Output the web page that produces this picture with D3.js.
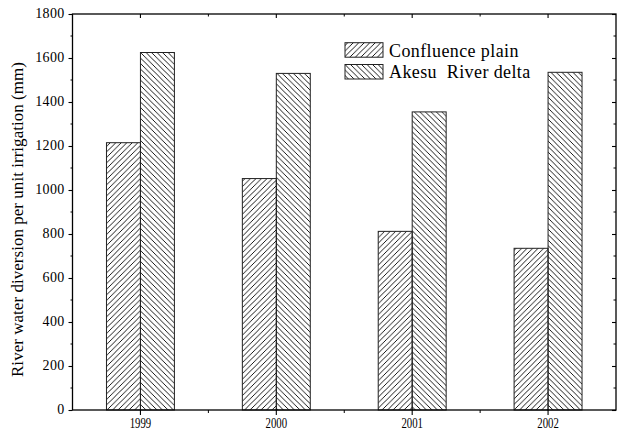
<!DOCTYPE html>
<html><head><meta charset="utf-8">
<script src="https://cdn.jsdelivr.net/npm/d3@7"></script>
<style>
html,body{margin:0;padding:0;background:#fff;}
svg{display:block;}
svg text{font-family:"Liberation Serif","Times New Roman",serif;fill:#000;}
</style></head>
<body>
<svg id="chart" width="618" height="430"></svg>
<script>
const years = ["1999","2000","2001","2002"];
const confluence = [1215, 1052, 812, 735];
const akesu = [1625, 1530, 1355, 1535];
const seriesNames = ["Confluence plain", "Akesu  River delta"];
const yTicks = [0,200,400,600,800,1000,1200,1400,1600,1800];
const yTitle = "River water diversion per unit irrigation (mm)";

const svg = d3.select("#chart");
const L = 72.5, R = 616, T = 14, B = 410;
const FONT = '"Liberation Serif", "Times New Roman", serif';

const x = d3.scaleBand().domain(years).range([L, R]).paddingInner(0).paddingOuter(0);
const y = d3.scaleLinear().domain([0, 1800]).range([B, T]);

const defs = svg.append("defs");
const p = 5.5;
function hatch(id, forward) {
  const pat = defs.append("pattern").attr("id", id)
    .attr("patternUnits", "userSpaceOnUse").attr("width", p).attr("height", p);
  const path = forward
    ? `M0,${p} L${p},0 M${-p/2},${p/2} L${p/2},${-p/2} M${p/2},${p*1.5} L${p*1.5},${p/2}`
    : `M0,0 L${p},${p} M${-p/2},${p/2} L${p/2},${p*1.5} M${p/2},${-p/2} L${p*1.5},${p/2}`;
  pat.append("path").attr("d", path).attr("stroke", "#000").attr("stroke-width", 0.9).attr("fill", "none");
}
hatch("h1", true);
hatch("h2", false);

const bw = x.bandwidth() / 4;
const g = svg.append("g");
g.selectAll("rect.c").data(years).join("rect").attr("class", "c")
  .attr("x", d => x(d) + x.bandwidth()/2 - bw)
  .attr("y", (d, i) => y(confluence[i]))
  .attr("width", bw)
  .attr("height", (d, i) => y(0) - y(confluence[i]))
  .attr("fill", "url(#h1)").attr("stroke", "#222").attr("stroke-width", 1);
g.selectAll("rect.a").data(years).join("rect").attr("class", "a")
  .attr("x", d => x(d) + x.bandwidth()/2)
  .attr("y", (d, i) => y(akesu[i]))
  .attr("width", bw)
  .attr("height", (d, i) => y(0) - y(akesu[i]))
  .attr("fill", "url(#h2)").attr("stroke", "#222").attr("stroke-width", 1);

const minorY = d3.range(100, 1800, 200);
const minorX = years.slice(1).map(d => x(d));

const leftAx = svg.append("g").attr("transform", `translate(${L},0)`)
  .call(d3.axisLeft(y).tickValues(yTicks).tickSize(4).tickPadding(4).tickFormat(d3.format("d")));
leftAx.attr("font-family", FONT);
leftAx.selectAll("text").style("font-family", FONT).style("font-size", "14px").style("letter-spacing", "0.3px").attr("dy", "0.25em");
leftAx.select(".domain").remove();
leftAx.selectAll("line").attr("stroke-width", 1.1);
svg.append("g").selectAll("line").data(minorY).join("line")
  .attr("x1", L - 2).attr("x2", L).attr("y1", d => y(d)).attr("y2", d => y(d))
  .attr("stroke", "#000").attr("stroke-width", 1);

const bottomAx = svg.append("g").attr("transform", `translate(0,${B})`)
  .call(d3.axisBottom(x).tickSize(5).tickPadding(2));
bottomAx.attr("font-family", FONT);
bottomAx.select(".domain").remove();
bottomAx.selectAll("line").attr("stroke-width", 1.1);
bottomAx.selectAll("text").style("font-family", FONT).style("font-size", "15px").attr("transform", "scale(0.72,1)");
svg.append("g").selectAll("line").data(minorX).join("line")
  .attr("x1", d => d).attr("x2", d => d).attr("y1", B).attr("y2", B + 3)
  .attr("stroke", "#000").attr("stroke-width", 1);

const topAx = svg.append("g").attr("transform", `translate(0,${T})`)
  .call(d3.axisTop(x).tickSize(-4).tickFormat(""));
topAx.select(".domain").remove();
topAx.selectAll("line").attr("stroke-width", 1.1);
svg.append("g").selectAll("line").data(minorX).join("line")
  .attr("x1", d => d).attr("x2", d => d).attr("y1", T).attr("y2", T + 2.5)
  .attr("stroke", "#000").attr("stroke-width", 1);

const rightAx = svg.append("g").attr("transform", `translate(${R},0)`)
  .call(d3.axisRight(y).tickValues(yTicks).tickSize(-4).tickFormat(""));
rightAx.select(".domain").remove();
rightAx.selectAll("line").attr("stroke-width", 1.1);
svg.append("g").selectAll("line").data(minorY).join("line")
  .attr("x1", R - 2.5).attr("x2", R).attr("y1", d => y(d)).attr("y2", d => y(d))
  .attr("stroke", "#000").attr("stroke-width", 1);

svg.append("rect").attr("x", L).attr("y", T).attr("width", R - L).attr("height", B - T)
  .attr("fill", "none").attr("stroke", "#000").attr("stroke-width", 1.3);

svg.append("text").attr("transform", `translate(23,${(62+377)/2}) rotate(-90)`)
  .attr("text-anchor", "middle").style("font-family", FONT).style("font-size", "17px")
  .attr("textLength", 315).attr("lengthAdjust", "spacing")
  .text(yTitle);

const leg = svg.append("g");
const legY = [42.7, 64.5];
const fills = ["url(#h1)", "url(#h2)"];
seriesNames.forEach((n, i) => {
  leg.append("rect").attr("x", 345).attr("y", legY[i]).attr("width", 38).attr("height", 14.5)
    .attr("fill", fills[i]).attr("stroke", "#222").attr("stroke-width", 1);
  leg.append("text").attr("x", 389).attr("y", legY[i] + 13.8)
    .style("font-family", FONT)
    .style("font-size", "18px").style("letter-spacing", "0.4px")
    .attr("xml:space", "preserve").style("white-space", "pre")
    .text(n);
});
</script>
</body></html>
